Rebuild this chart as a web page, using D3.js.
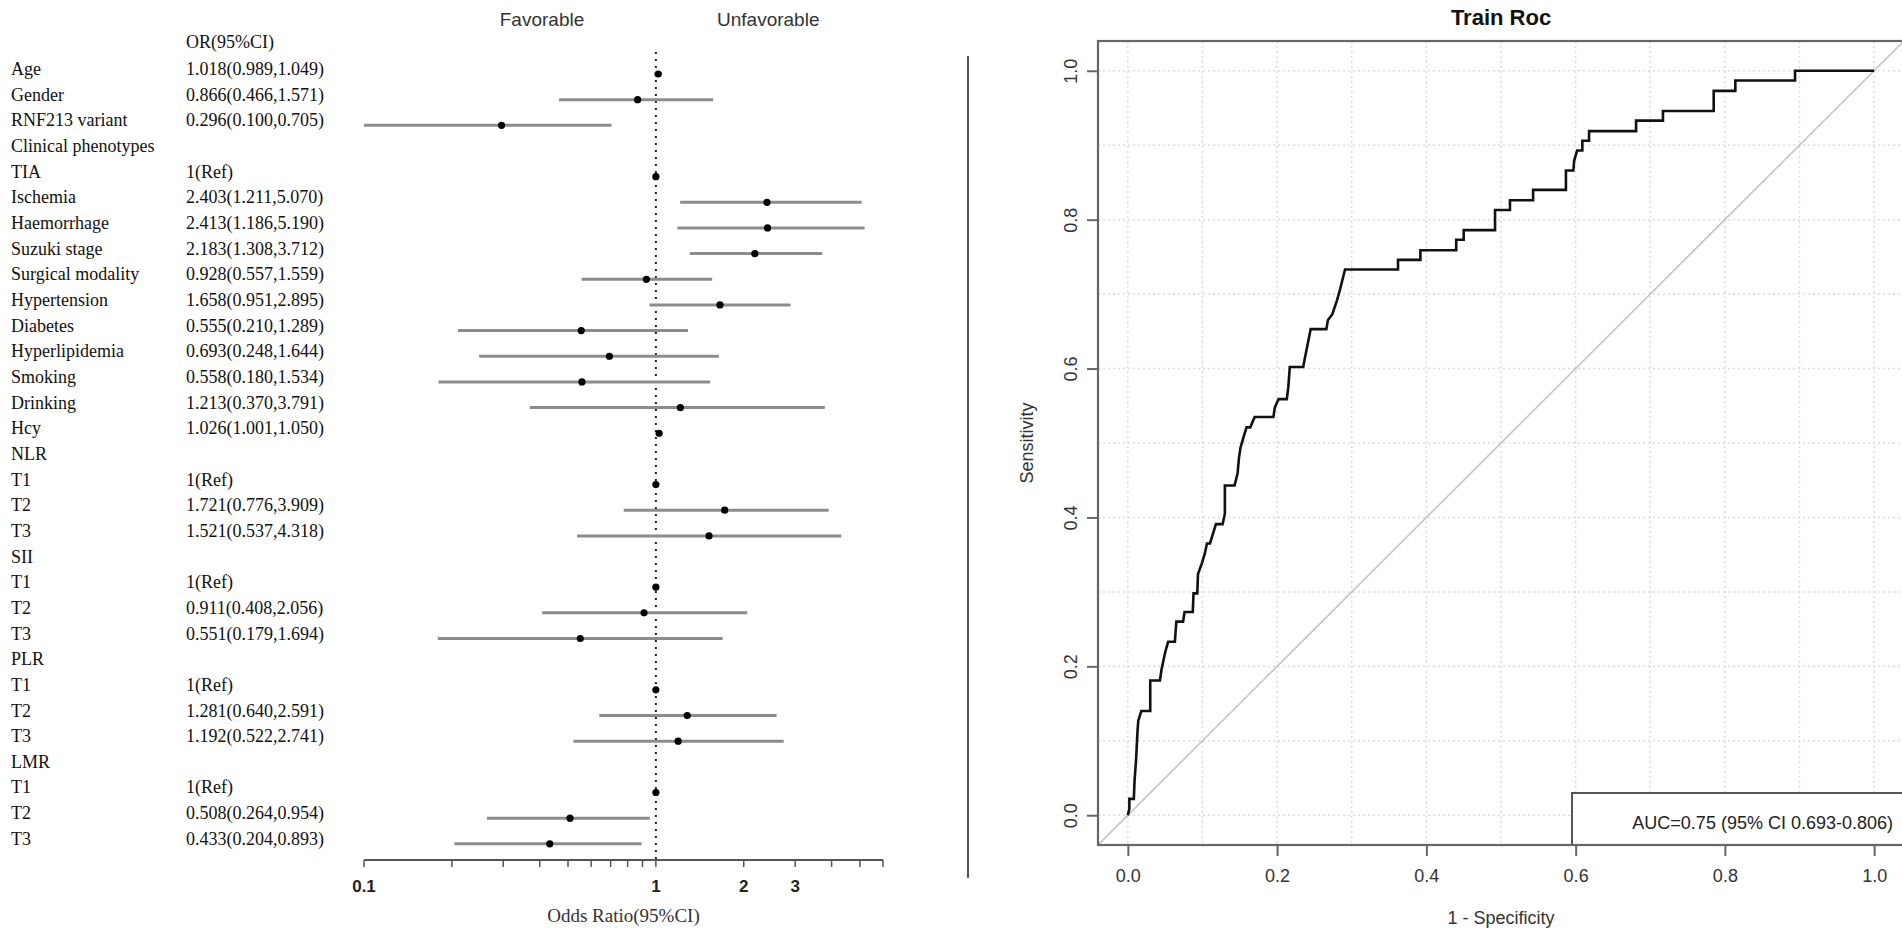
<!DOCTYPE html>
<html>
<head>
  <meta charset="utf-8">
  <title>Forest plot and Train ROC</title>
  <script src="https://d3js.org/d3.v7.min.js"></script>
  <style>
    html, body { margin: 0; background: #fff; overflow: hidden; }
    svg { display: block; }
  </style>
</head>
<body>
  <div id="chart"></div>
  <script>
    // ---- forest plot data ----
    const labels = ['Age', 'Gender', 'RNF213 variant', 'Clinical phenotypes', 'TIA', 'Ischemia', 'Haemorrhage',
      'Suzuki stage', 'Surgical modality', 'Hypertension', 'Diabetes', 'Hyperlipidemia', 'Smoking', 'Drinking',
      'Hcy', 'NLR', 'T1', 'T2', 'T3', 'SII', 'T1', 'T2', 'T3', 'PLR', 'T1', 'T2', 'T3', 'LMR', 'T1', 'T2', 'T3'];
    const orText = ['1.018(0.989,1.049)', '0.866(0.466,1.571)', '0.296(0.100,0.705)', '', '1(Ref)',
      '2.403(1.211,5.070)', '2.413(1.186,5.190)', '2.183(1.308,3.712)', '0.928(0.557,1.559)', '1.658(0.951,2.895)',
      '0.555(0.210,1.289)', '0.693(0.248,1.644)', '0.558(0.180,1.534)', '1.213(0.370,3.791)', '1.026(1.001,1.050)',
      '', '1(Ref)', '1.721(0.776,3.909)', '1.521(0.537,4.318)', '', '1(Ref)', '0.911(0.408,2.056)',
      '0.551(0.179,1.694)', '', '1(Ref)', '1.281(0.640,2.591)', '1.192(0.522,2.741)', '', '1(Ref)',
      '0.508(0.264,0.954)', '0.433(0.204,0.893)'];
    const orMean = [1.018, 0.866, 0.296, null, 1, 2.403, 2.413, 2.183, 0.928, 1.658, 0.555, 0.693, 0.558, 1.213,
      1.026, null, 1, 1.721, 1.521, null, 1, 0.911, 0.551, null, 1, 1.281, 1.192, null, 1, 0.508, 0.433];
    const orLow = [0.989, 0.466, 0.100, null, 1, 1.211, 1.186, 1.308, 0.557, 0.951, 0.210, 0.248, 0.180, 0.370,
      1.001, null, 1, 0.776, 0.537, null, 1, 0.408, 0.179, null, 1, 0.640, 0.522, null, 1, 0.264, 0.204];
    const orHigh = [1.049, 1.571, 0.705, null, 1, 5.070, 5.190, 3.712, 1.559, 2.895, 1.289, 1.644, 1.534, 3.791,
      1.050, null, 1, 3.909, 4.318, null, 1, 2.056, 1.694, null, 1, 2.591, 2.741, null, 1, 0.954, 0.893];
    const forestTicks = [0.1, 0.2, 0.3, 0.4, 0.5, 0.6, 0.7, 0.8, 0.9, 1, 2, 3, 4, 5, 6];
    const forestTickLabels = ['0.1', '1', '2', '3'];

    // ---- ROC data (1 - specificity, sensitivity) ----
    const rocFpr = [0, 0.002, 0.002, 0.008, 0.009, 0.011, 0.013, 0.014, 0.018, 0.030, 0.030, 0.043, 0.045, 0.050,
      0.054, 0.063, 0.065, 0.074, 0.076, 0.087, 0.088, 0.093, 0.094, 0.099, 0.103, 0.106, 0.110, 0.114, 0.118,
      0.127, 0.130, 0.130, 0.143, 0.147, 0.149, 0.151, 0.155, 0.159, 0.164, 0.170, 0.195, 0.197, 0.202, 0.213,
      0.215, 0.217, 0.235, 0.237, 0.242, 0.245, 0.266, 0.268, 0.274, 0.280, 0.284, 0.291, 0.362, 0.362, 0.392,
      0.392, 0.440, 0.440, 0.450, 0.450, 0.492, 0.492, 0.512, 0.512, 0.543, 0.543, 0.587, 0.587, 0.597, 0.598,
      0.602, 0.609, 0.609, 0.618, 0.618, 0.681, 0.681, 0.717, 0.717, 0.785, 0.785, 0.814, 0.814, 0.894, 0.894, 1.0];
    const rocTpr = [0, 0.009, 0.022, 0.022, 0.047, 0.074, 0.114, 0.127, 0.140, 0.140, 0.181, 0.181, 0.195, 0.219,
      0.233, 0.233, 0.260, 0.260, 0.273, 0.273, 0.298, 0.298, 0.324, 0.338, 0.351, 0.365, 0.365, 0.378, 0.391,
      0.391, 0.405, 0.443, 0.443, 0.459, 0.481, 0.494, 0.508, 0.521, 0.521, 0.535, 0.535, 0.548, 0.559, 0.559,
      0.575, 0.602, 0.602, 0.613, 0.638, 0.653, 0.653, 0.665, 0.673, 0.691, 0.705, 0.733, 0.733, 0.746, 0.746,
      0.759, 0.759, 0.773, 0.773, 0.786, 0.786, 0.813, 0.813, 0.826, 0.826, 0.840, 0.840, 0.866, 0.866, 0.879,
      0.893, 0.893, 0.906, 0.906, 0.919, 0.919, 0.933, 0.933, 0.946, 0.946, 0.973, 0.973, 0.987, 0.987, 1.0, 1.0];
    const rocTicks = [0, 0.2, 0.4, 0.6, 0.8, 1.0];
    const gridTicks = [0, 0.1, 0.2, 0.3, 0.4, 0.5, 0.6, 0.7, 0.8, 0.9, 1.0];
    const aucLabel = 'AUC=0.75 (95% CI 0.693-0.806)';

    const W = 1902, H = 937;
    const svg = d3.select('#chart').append('svg')
      .attr('width', W).attr('height', H)
      .attr('viewBox', [0, 0, W, H]);
    svg.append('rect').attr('width', W).attr('height', H).attr('fill', '#fff');

    const serif = '"Liberation Serif", "Times New Roman", serif';
    const sans = '"Liberation Sans", Arial, sans-serif';

    // ================= forest plot =================
    const x = d3.scaleLog().domain([0.1, 6]).range([364, 883]);
    const rowY = i => 74 + i * 25.66;
    const forest = svg.append('g');

    forest.append('text')
      .attr('x', 542).attr('y', 26).attr('text-anchor', 'middle')
      .attr('font-family', sans).attr('font-size', 19).attr('fill', '#333')
      .text('Favorable');
    forest.append('text')
      .attr('x', 717).attr('y', 26)
      .attr('font-family', sans).attr('font-size', 19).attr('fill', '#333')
      .text('Unfavorable');

    forest.append('text')
      .attr('x', 186).attr('y', 48)
      .attr('font-family', serif).attr('font-size', 18).attr('fill', '#111')
      .text('OR(95%CI)');

    const rows = labels.map((l, i) => ({ label: l, or: orText[i], m: orMean[i], lo: orLow[i], hi: orHigh[i], i }));

    forest.append('g').selectAll('text')
      .data(rows).join('text')
      .attr('x', 11).attr('y', d => rowY(d.i) + 1)
      .attr('font-family', serif).attr('font-size', 18).attr('fill', '#111')
      .text(d => d.label);

    forest.append('g').selectAll('text')
      .data(rows.filter(d => d.or)).join('text')
      .attr('x', 186).attr('y', d => rowY(d.i) + 1)
      .attr('font-family', serif).attr('font-size', 18).attr('fill', '#111')
      .text(d => d.or);

    // reference line at OR = 1
    forest.append('line')
      .attr('x1', x(1)).attr('x2', x(1))
      .attr('y1', 52).attr('y2', 860)
      .attr('stroke', '#222').attr('stroke-width', 2)
      .attr('stroke-dasharray', '2,5');

    const est = rows.filter(d => d.m != null);
    forest.append('g').selectAll('line')
      .data(est.filter(d => d.lo !== d.hi)).join('line')
      .attr('x1', d => x(d.lo)).attr('x2', d => x(d.hi))
      .attr('y1', d => rowY(d.i)).attr('y2', d => rowY(d.i))
      .attr('stroke', '#8c8c8c').attr('stroke-width', 3);

    forest.append('g').selectAll('circle')
      .data(est).join('circle')
      .attr('cx', d => x(d.m)).attr('cy', d => rowY(d.i))
      .attr('r', 3.6).attr('fill', '#000');

    // x axis
    const fAxis = forest.append('g').attr('transform', 'translate(0,860)');
    fAxis.append('line')
      .attr('x1', x(0.1)).attr('x2', x(6))
      .attr('stroke', '#555').attr('stroke-width', 2);
    fAxis.selectAll('.tk')
      .data(forestTicks).join('line')
      .attr('class', 'tk')
      .attr('x1', d => x(d)).attr('x2', d => x(d))
      .attr('y1', 0).attr('y2', 7)
      .attr('stroke', '#555').attr('stroke-width', 1.5);
    fAxis.selectAll('.tl')
      .data(forestTickLabels).join('text')
      .attr('class', 'tl')
      .attr('x', d => x(+d)).attr('y', 32)
      .attr('text-anchor', 'middle')
      .attr('font-family', sans).attr('font-weight', 'bold').attr('font-size', 17).attr('fill', '#222')
      .text(d => d);
    forest.append('text')
      .attr('x', (x(0.1) + x(6)) / 2).attr('y', 922)
      .attr('text-anchor', 'middle')
      .attr('font-family', serif).attr('font-size', 19).attr('fill', '#333')
      .text('Odds Ratio(95%CI)');

    // divider
    svg.append('line')
      .attr('x1', 968).attr('x2', 968).attr('y1', 56).attr('y2', 878)
      .attr('stroke', '#555').attr('stroke-width', 2);

    // ================= ROC =================
    const rx = d3.scaleLinear().domain([-0.04, 1.04]).range([1098, 1904]);
    const ry = d3.scaleLinear().domain([-0.04, 1.04]).range([845, 41]);
    const roc = svg.append('g');

    roc.append('defs').append('clipPath').attr('id', 'plotClip')
      .append('rect')
      .attr('x', rx(-0.04)).attr('y', ry(1.04))
      .attr('width', rx(1.04) - rx(-0.04)).attr('height', ry(-0.04) - ry(1.04));

    const grid = roc.append('g').attr('stroke', '#dcdcdc').attr('stroke-width', 1.5).attr('stroke-dasharray', '2,3');
    grid.selectAll('.gv').data(gridTicks).join('line').attr('class', 'gv')
      .attr('x1', d => rx(d)).attr('x2', d => rx(d)).attr('y1', ry(1.04)).attr('y2', ry(-0.04));
    grid.selectAll('.gh').data(gridTicks).join('line').attr('class', 'gh')
      .attr('y1', d => ry(d)).attr('y2', d => ry(d)).attr('x1', rx(-0.04)).attr('x2', rx(1.04));

    // chance line
    roc.append('line')
      .attr('clip-path', 'url(#plotClip)')
      .attr('x1', rx(-0.04)).attr('y1', ry(-0.04))
      .attr('x2', rx(1.04)).attr('y2', ry(1.04))
      .attr('stroke', '#c4c4c4').attr('stroke-width', 1.6);

    const rocPts = rocFpr.map((f, i) => [f, rocTpr[i]]);
    roc.append('path')
      .datum(rocPts)
      .attr('fill', 'none').attr('stroke', '#111').attr('stroke-width', 2.6)
      .attr('stroke-linejoin', 'miter')
      .attr('d', d3.line().x(d => rx(d[0])).y(d => ry(d[1])));

    // legend box
    roc.append('rect')
      .attr('x', 1572).attr('y', 793)
      .attr('width', rx(1.04) - 1572 + 4).attr('height', ry(-0.04) - 793)
      .attr('fill', '#fff').attr('stroke', '#555').attr('stroke-width', 2);
    roc.append('text')
      .attr('x', 1893).attr('y', 829).attr('text-anchor', 'end')
      .attr('font-family', sans).attr('font-size', 18).attr('fill', '#222')
      .text(aucLabel);

    // frame
    roc.append('rect')
      .attr('x', rx(-0.04)).attr('y', ry(1.04))
      .attr('width', rx(1.04) - rx(-0.04)).attr('height', ry(-0.04) - ry(1.04))
      .attr('fill', 'none').attr('stroke', '#666').attr('stroke-width', 2.2);

    // axes
    const xAxis = d3.axisBottom(rx).tickValues(rocTicks).tickFormat(d3.format('.1f')).tickSize(11).tickSizeOuter(0);
    const gx = roc.append('g').attr('transform', `translate(0,${ry(-0.04)})`).call(xAxis);
    gx.select('.domain').remove();
    gx.selectAll('line').attr('stroke', '#666').attr('stroke-width', 2);
    gx.selectAll('text').attr('font-family', sans).attr('font-size', 18).attr('fill', '#333').attr('dy', '1.25em');

    const yAxis = d3.axisLeft(ry).tickValues(rocTicks).tickFormat(d3.format('.1f')).tickSize(11).tickSizeOuter(0);
    const gy = roc.append('g').attr('transform', `translate(${rx(-0.04)},0)`).call(yAxis);
    gy.select('.domain').remove();
    gy.selectAll('line').attr('stroke', '#666').attr('stroke-width', 2);
    gy.selectAll('text')
      .attr('font-family', sans).attr('font-size', 18).attr('fill', '#333')
      .attr('x', 0).attr('y', 0).attr('dy', '0.35em')
      .attr('text-anchor', 'middle')
      .attr('transform', 'translate(-27,0) rotate(-90)');

    roc.append('text')
      .attr('x', (rx(-0.04) + rx(1.04)) / 2).attr('y', 924)
      .attr('text-anchor', 'middle')
      .attr('font-family', sans).attr('font-size', 18).attr('fill', '#333')
      .text('1 - Specificity');
    roc.append('text')
      .attr('transform', `translate(1033,${(ry(-0.04) + ry(1.04)) / 2}) rotate(-90)`)
      .attr('text-anchor', 'middle')
      .attr('font-family', sans).attr('font-size', 18).attr('fill', '#333')
      .text('Sensitivity');
    roc.append('text')
      .attr('x', (rx(-0.04) + rx(1.04)) / 2).attr('y', 25)
      .attr('text-anchor', 'middle')
      .attr('font-family', sans).attr('font-weight', 'bold').attr('font-size', 22).attr('fill', '#111')
      .text('Train Roc');
  </script>
</body>
</html>
